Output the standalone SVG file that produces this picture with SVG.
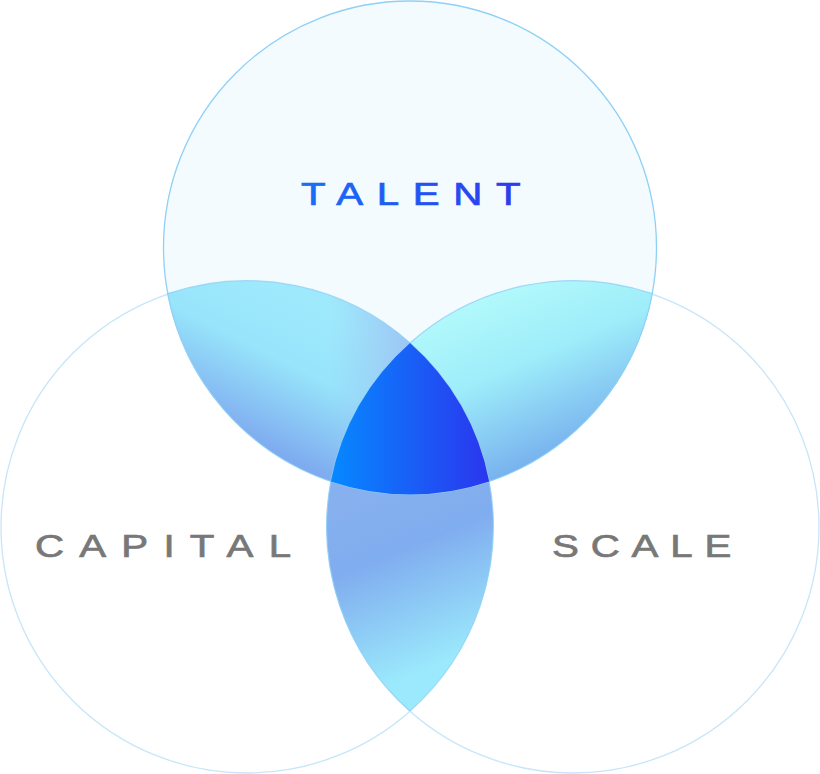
<svg xmlns="http://www.w3.org/2000/svg" width="820" height="774" viewBox="0 0 820 774">
<style>
.lbl{font-family:"Liberation Sans","DejaVu Sans",sans-serif;font-size:31px;stroke-width:0.7}
.gray{fill:#787878;stroke:#787878}
.ring-top{fill:#f3fbfe;stroke:#8fd0f6;stroke-width:1.3}
.ring-bot{fill:#ffffff;stroke:#c6e6f9;stroke-width:1.3}
.edge{fill:none;stroke:#8fd0f6;stroke-width:1.2;stroke-opacity:0.8}
</style>
<defs>
<linearGradient id="gC" x1="331" y1="0" x2="489" y2="0" gradientUnits="userSpaceOnUse">
<stop offset="0" stop-color="#0689ff"/>
<stop offset="1" stop-color="#2b36ee"/>
</linearGradient>
<linearGradient id="gTL" x1="300" y1="300" x2="230" y2="440" gradientUnits="userSpaceOnUse">
<stop offset="0" stop-color="#9fe9fc"/>
<stop offset="0.4" stop-color="#97e4fb"/>
<stop offset="1" stop-color="#7ca5ee"/>
</linearGradient>
<linearGradient id="gTLr" x1="330" y1="0" x2="420" y2="0" gradientUnits="userSpaceOnUse">
<stop offset="0" stop-color="#9cc2f2" stop-opacity="0"/>
<stop offset="1" stop-color="#9cbcf2" stop-opacity="0.9"/>
</linearGradient>
<linearGradient id="gTR" x1="470" y1="300" x2="540" y2="460" gradientUnits="userSpaceOnUse">
<stop offset="0" stop-color="#b2f9fb"/>
<stop offset="0.45" stop-color="#9eedfa"/>
<stop offset="1" stop-color="#78b2ee"/>
</linearGradient>
<linearGradient id="gB" x1="380" y1="490" x2="450" y2="660" gradientUnits="userSpaceOnUse">
<stop offset="0" stop-color="#86b0ee"/>
<stop offset="0.35" stop-color="#80adef"/>
<stop offset="1" stop-color="#9be9fc"/>
</linearGradient>
<linearGradient id="gT" x1="0" y1="0" x2="1" y2="0">
<stop offset="0" stop-color="#1870f6"/>
<stop offset="1" stop-color="#2e3aee"/>
</linearGradient>
</defs>
<g id="circle-capital">
<circle class="ring-bot" cx="247" cy="527" r="246"/>
</g>
<g id="circle-scale">
<circle class="ring-bot" cx="573" cy="527" r="246"/>
</g>
<g id="circle-talent">
<circle class="ring-top" cx="410" cy="247.5" r="246.5"/>
</g>
<g id="overlap-talent-capital">
<path d="M167.8,293.6 A246,246 0 0 1 410,343 A246,246 0 0 0 330.8,481.4 A246.5,246.5 0 0 1 167.8,293.6 Z" fill="url(#gTL)"/>
<path d="M167.8,293.6 A246,246 0 0 1 410,343 A246,246 0 0 0 330.8,481.4 A246.5,246.5 0 0 1 167.8,293.6 Z" fill="url(#gTLr)"/>
<path class="edge" d="M167.8,293.6 A246,246 0 0 1 410,343 A246,246 0 0 0 330.8,481.4 A246.5,246.5 0 0 1 167.8,293.6 Z"/>
</g>
<g id="overlap-talent-scale">
<path d="M410,343 A246,246 0 0 1 652.2,293.6 A246.5,246.5 0 0 1 489.2,481.4 A246,246 0 0 0 410,343 Z" fill="url(#gTR)"/>
<path class="edge" d="M410,343 A246,246 0 0 1 652.2,293.6 A246.5,246.5 0 0 1 489.2,481.4 A246,246 0 0 0 410,343 Z"/>
</g>
<g id="overlap-capital-scale">
<path d="M330.8,481.4 A246.5,246.5 0 0 0 489.2,481.4 A246,246 0 0 1 410,711 A246,246 0 0 1 330.8,481.4 Z" fill="url(#gB)"/>
<path class="edge" d="M330.8,481.4 A246.5,246.5 0 0 0 489.2,481.4 A246,246 0 0 1 410,711 A246,246 0 0 1 330.8,481.4 Z"/>
</g>
<g id="center">
<path d="M410,343 A246,246 0 0 1 489.2,481.4 A246.5,246.5 0 0 1 330.8,481.4 A246,246 0 0 1 410,343 Z" fill="url(#gC)"/>
</g>
<g id="labels">
<text class="lbl" transform="translate(301,205) scale(1.3,1)" x="0" y="0" fill="url(#gT)" stroke="url(#gT)" textLength="169" lengthAdjust="spacing">TALENT</text>
<text class="lbl gray" transform="translate(35,557) scale(1.3,1)" x="0" y="0" textLength="197" lengthAdjust="spacing">CAPITAL</text>
<text class="lbl gray" transform="translate(552,557) scale(1.3,1)" x="0" y="0" textLength="138" lengthAdjust="spacing">SCALE</text>
</g>
</svg>
